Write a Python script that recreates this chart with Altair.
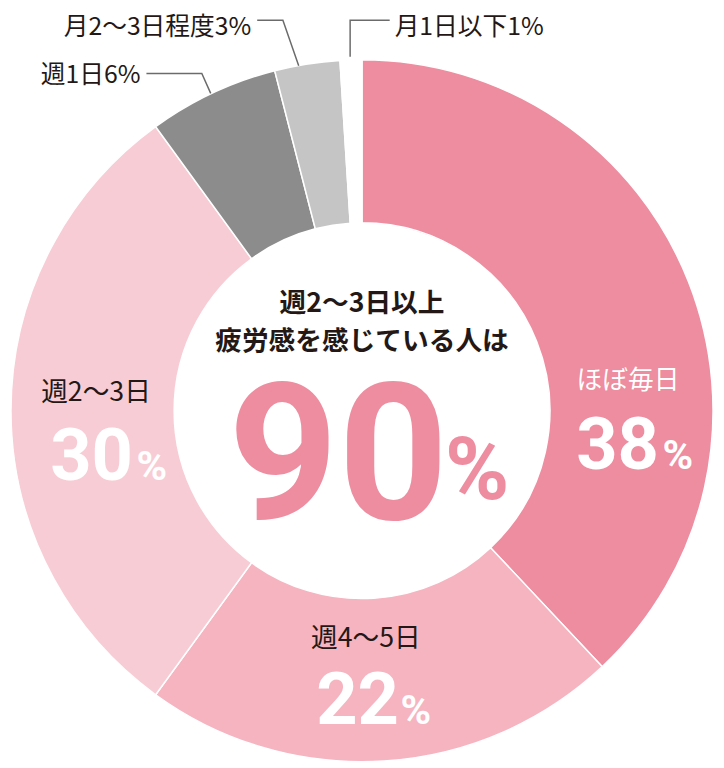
import altair as alt
import pandas as pd

# ---- data ----
categories = ["ほぼ毎日", "週4〜5日", "週2〜3日", "週1日", "月2〜3日程度", "月1日以下"]
shares = [38, 22, 30, 6, 3, 1]
colors = ["#ee8ca0", "#f5b4c0", "#f8ccd4", "#8c8c8c", "#c5c5c5", "#ffffff"]

center_lines = ["週2〜3日以上", "疲労感を感じている人は"]
center_value = "90"

inner_labels = ["ほぼ毎日", "週2〜3日", "週4〜5日"]
inner_values = ["38", "30", "22"]
callout_labels = ["月2〜3日程度3%", "週1日6%", "月1日以下1%"]

# ---- layout (pixels) ----
W, H = 716, 760
CX, CY = 358, 403
R_OUT, R_IN = 355, 190
JP = "Noto Sans CJK JP"
NUM = "Roboto"
DARK = "#231815"
PINK = "#ee8ca0"

xs = alt.Scale(domain=[0, W], range=[0, W])
ys = alt.Scale(domain=[0, H], range=[0, H])

slices = pd.DataFrame({"cat": categories, "share": shares, "ord": list(range(len(shares)))})

arc = alt.Chart(slices).mark_arc(
    outerRadius=R_OUT, innerRadius=R_IN, stroke="white", strokeWidth=1.5
).encode(
    theta=alt.Theta("share:Q", stack=True),
    order=alt.Order("ord:Q"),
    color=alt.Color("cat:N", scale=alt.Scale(domain=categories, range=colors), legend=None),
    x=alt.value(CX),
    y=alt.value(CY),
)

# leader lines
lead = pd.DataFrame({
    "g": [0, 0, 0, 1, 1, 1, 2, 2, 2],
    "i": [0, 1, 2, 0, 1, 2, 0, 1, 2],
    "x": [252, 278, 294, 140, 196, 205, 386, 346, 346],
    "y": [8, 8, 54, 62, 62, 82, 8, 8, 45],
})
lines = alt.Chart(lead).mark_line(color="#6b6b6b", strokeWidth=1.5).encode(
    x=alt.X("x:Q", scale=xs, axis=None),
    y=alt.Y("y:Q", scale=ys, axis=None),
    detail="g:N",
    order="i:Q",
)


def text_layer(df, **kw):
    return alt.Chart(df).mark_text(**kw).encode(
        x=alt.X("x:Q", scale=xs, axis=None),
        y=alt.Y("y:Q", scale=ys, axis=None),
        text="t:N",
    )


callout_left = text_layer(
    pd.DataFrame({"t": callout_labels[:2], "x": [246, 134], "y": [15, 64]}),
    font=JP, fontSize=25, color=DARK, align="right", baseline="middle",
)
callout_right = text_layer(
    pd.DataFrame({"t": callout_labels[2:], "x": [391], "y": [15]}),
    font=JP, fontSize=25, color=DARK, align="left", baseline="middle",
)

title = text_layer(
    pd.DataFrame({"t": center_lines, "x": [358, 358], "y": [295, 334]}),
    font=JP, fontSize=27, fontWeight="bold", color=DARK, align="center", baseline="middle",
)
big = text_layer(
    pd.DataFrame({"t": [center_value], "x": [334], "y": [512]}),
    font=NUM, fontSize=194, fontWeight="bold", color=PINK, align="center", baseline="alphabetic",
)
big_pct = text_layer(
    pd.DataFrame({"t": ["%"], "x": [442], "y": [492]}),
    font=NUM, fontSize=88, fontWeight="bold", color=PINK, align="left", baseline="alphabetic",
)

lab_white = text_layer(
    pd.DataFrame({"t": inner_labels[:1], "x": [627], "y": [373]}),
    font=JP, fontSize=26, color="white", align="center", baseline="middle",
)
lab_dark = text_layer(
    pd.DataFrame({"t": inner_labels[1:], "x": [89, 362], "y": [385, 634]}),
    font=JP, fontSize=27, color=DARK, align="center", baseline="middle",
)
nums = text_layer(
    pd.DataFrame({"t": inner_values, "x": [616.5, 84.5, 353.5], "y": [462, 473, 720]}),
    font=NUM, fontSize=73, fontWeight="bold", color="white", align="center", baseline="alphabetic",
)
pcts = text_layer(
    pd.DataFrame({"t": ["%", "%", "%"], "x": [662, 130, 397], "y": [462, 473, 720]}),
    font=NUM, fontSize=42, fontWeight="bold", color="white", align="left", baseline="alphabetic",
)

chart = alt.layer(
    arc, lines, callout_left, callout_right, title, big, big_pct,
    lab_white, lab_dark, nums, pcts,
).properties(
    width=W, height=H, padding=0, autosize=alt.AutoSizeParams(type="none"),
).configure(
    background="white", view=alt.ViewConfig(stroke=None, strokeWidth=0)
)

chart.save("out.html", embed_options={"renderer": "svg", "actions": False})
